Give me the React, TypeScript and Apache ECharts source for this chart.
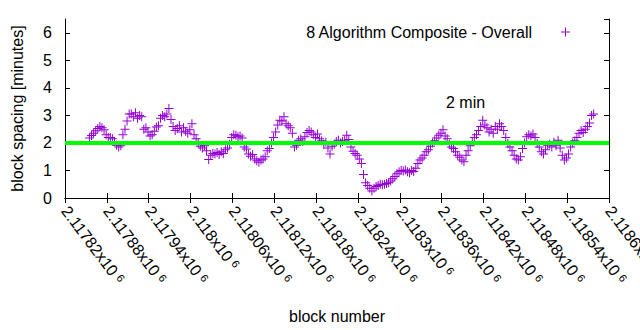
import React, { useEffect, useRef } from "react";
import * as echarts from "echarts";

// ---- data ----
const FIRST_BLOCK = 2117855;
const BLOCK_STEP = 3;
const spacingMinutes = [
  2.18, 2.27, 2.35, 2.44, 2.52, 2.6, 2.55, 2.48, 2.3, 2.2,
  2.2, 2.15, 2.05, 1.92, 1.85, 1.9, 2.3, 2.5, 2.8, 3.05,
  3.05, 2.95, 3.1, 2.9, 3.0, 2.95, 2.5, 2.55, 2.4, 2.25,
  2.3, 2.42, 2.58, 2.62, 2.9, 3.0, 2.95, 3.05, 3.25, 2.85,
  2.6, 2.45, 2.52, 2.62, 2.4, 2.55, 2.42, 2.35, 2.48, 2.7,
  2.3, 2.15, 2.0, 1.88, 1.82, 1.9, 1.72, 1.4, 1.55, 1.62,
  1.6, 1.65, 1.58, 1.68, 1.62, 1.75, 1.82, 1.95, 2.2, 2.3,
  2.28, 2.22, 2.25, 2.18, 1.85, 1.78, 1.6, 1.52, 1.58, 1.42,
  1.35, 1.3, 1.38, 1.42, 1.5, 1.72, 1.8, 2.0, 2.2, 2.4,
  2.65, 2.82, 2.8, 2.95, 2.7, 2.62, 2.55, 2.35, 1.85, 1.92,
  2.1, 2.15, 2.05, 2.22, 2.38, 2.45, 2.4, 2.3, 2.2, 2.32,
  2.15, 2.08, 1.95, 2.02, 1.82, 1.6, 1.88, 1.95, 2.05, 2.1,
  2.0, 2.05, 2.1, 2.28, 2.12, 1.85, 1.7, 1.62, 1.55, 1.42,
  1.25, 0.85, 0.55, 0.45, 0.35, 0.25, 0.35, 0.42, 0.45, 0.5,
  0.48, 0.5, 0.53, 0.55, 0.62, 0.7, 0.78, 0.88, 0.95, 1.0,
  0.98, 1.02, 0.95, 0.92, 1.0, 0.96, 1.08, 1.25, 1.38, 1.45,
  1.55, 1.68, 1.75, 1.88, 2.0, 2.08, 2.18, 2.28, 2.35, 2.48,
  2.25, 2.15, 1.95, 1.85, 1.8, 1.68, 1.55, 1.48, 1.38, 1.32,
  1.55, 1.72, 1.9, 2.05, 2.2, 2.3, 2.45, 2.6, 2.82, 2.65,
  2.55, 2.4, 2.5, 2.35, 2.6, 2.5, 2.7, 2.6, 2.45, 2.2,
  1.98, 1.85, 1.72, 1.55, 1.42, 1.38, 1.5, 1.8, 2.0, 2.22,
  2.3, 2.25, 2.32, 2.2, 1.98, 1.85, 1.68, 1.6, 1.75, 1.92,
  1.95, 1.85, 2.02, 1.9, 2.1, 1.82, 1.55, 1.38, 1.45, 1.6,
  1.85, 2.0, 2.08, 2.2, 2.35, 2.45, 2.38, 2.5, 2.6, 2.72,
  3.0, 3.05,
];
const targetMinutes = 2;
const xRange = [2117820, 2118600];
const xTickStep = 60;
const yRange = [0, 6.5];
const yTickStep = 1;
const seriesName = "8 Algorithm Composite - Overall";
const targetLabel = "2 min";
const xAxisTitle = "block number";
const yAxisTitle = "block spacing [minutes]";

// ---- style ----
const FONT = "'Liberation Sans', Arial, sans-serif";
const PURPLE = "#9400d3";
const GREEN = "#00ff00";
const CROSS = "path://M4,0h1v4h4v1h-4v4h-1v-4h-4v-1h4z";

function fmtX(v: number): string {
  const s = parseFloat((v / 1e6).toFixed(5)).toString();
  return `{m|${s}x10}{e|6}`;
}

export default function App() {
  const ref = useRef<HTMLDivElement>(null);
  useEffect(() => {
    document.body.style.margin = "0";
    if (!ref.current) return;
    const chart = echarts.init(ref.current, null, { renderer: "svg" });
    const points = spacingMinutes.map((v, i) => [FIRST_BLOCK + i * BLOCK_STEP, v]);
    const axisLineStyle = { lineStyle: { color: "#000", width: 1 } };
    const option: any = {
      animation: false,
      backgroundColor: "#fff",
      textStyle: { fontFamily: FONT },
      grid: {
        left: 65,
        right: 31,
        top: 19,
        bottom: 132,
        containLabel: false,
        outerBoundsMode: "none",
      },
      legend: {
        data: [{ name: seriesName, icon: CROSS }],
        selectedMode: false,
        right: 65,
        top: 19,
        align: "right",
        itemWidth: 9,
        itemHeight: 9,
        textStyle: { fontSize: 16, fontFamily: FONT, color: "#000", padding: [0, 24, 0, 0] },
      },
      xAxis: [
        {
          type: "value",
          position: "bottom",
          min: xRange[0],
          max: xRange[1],
          interval: xTickStep,
          axisLine: axisLineStyle,
          axisTick: { inside: true, length: 5, lineStyle: { color: "#000" } },
          splitLine: { show: false },
          axisLabel: {
            rotate: -53,
            margin: 10,
            showMinLabel: true,
            showMaxLabel: true,
            hideOverlap: false,
            formatter: fmtX,
            rich: {
              m: { fontSize: 16, fontFamily: FONT, color: "#000" },
              e: { fontSize: 11, fontFamily: FONT, color: "#000", verticalAlign: "top", padding: [0, 0, 0, 4] },
            },
          },
          name: xAxisTitle,
          nameLocation: "middle",
          nameGap: 110,
          nameTextStyle: { fontSize: 16, fontFamily: FONT, color: "#000" },
        },
        {
          type: "value",
          position: "top",
          min: xRange[0],
          max: xRange[1],
          interval: xTickStep,
          axisLine: axisLineStyle,
          axisTick: { inside: true, length: 5, lineStyle: { color: "#000" } },
          splitLine: { show: false },
          axisLabel: { show: false },
        },
      ],
      yAxis: [
        {
          type: "value",
          position: "left",
          min: yRange[0],
          max: yRange[1],
          interval: yTickStep,
          axisLine: { show: true, ...axisLineStyle },
          axisTick: { show: true, inside: true, length: 5, lineStyle: { color: "#000" } },
          splitLine: { show: false },
          axisLabel: { fontSize: 16, fontFamily: FONT, color: "#000", margin: 13, showMaxLabel: false },
          name: yAxisTitle,
          nameLocation: "middle",
          nameGap: 40,
          nameRotate: 90,
          nameTextStyle: { fontSize: 16, fontFamily: FONT, color: "#000" },
        },
        {
          type: "value",
          position: "right",
          min: yRange[0],
          max: yRange[1],
          interval: yTickStep,
          axisLine: { show: true, ...axisLineStyle },
          axisTick: { show: true, inside: true, length: 5, lineStyle: { color: "#000" } },
          splitLine: { show: false },
          axisLabel: { show: false },
        },
      ],
      series: [
        {
          name: seriesName,
          type: "scatter",
          data: points,
          symbol: CROSS,
          symbolSize: 9,
          itemStyle: { color: PURPLE, opacity: 1 },
          z: 2,
          silent: true,
        },
        {
          name: targetLabel,
          type: "line",
          data: [
            [xRange[0], targetMinutes],
            [xRange[1], targetMinutes],
          ],
          symbol: "none",
          lineStyle: { color: GREEN, width: 4 },
          z: 3,
          silent: true,
        },
      ],
      graphic: [
        {
          type: "text",
          left: 446,
          top: 94,
          style: { text: targetLabel, fontSize: 16, fontFamily: FONT, fill: "#000" },
        },
      ],
    };
    chart.setOption(option);
    return () => chart.dispose();
  }, []);
  return <div ref={ref} style={{ width: 640, height: 330, position: "absolute", left: 0, top: 0 }} />;
}
